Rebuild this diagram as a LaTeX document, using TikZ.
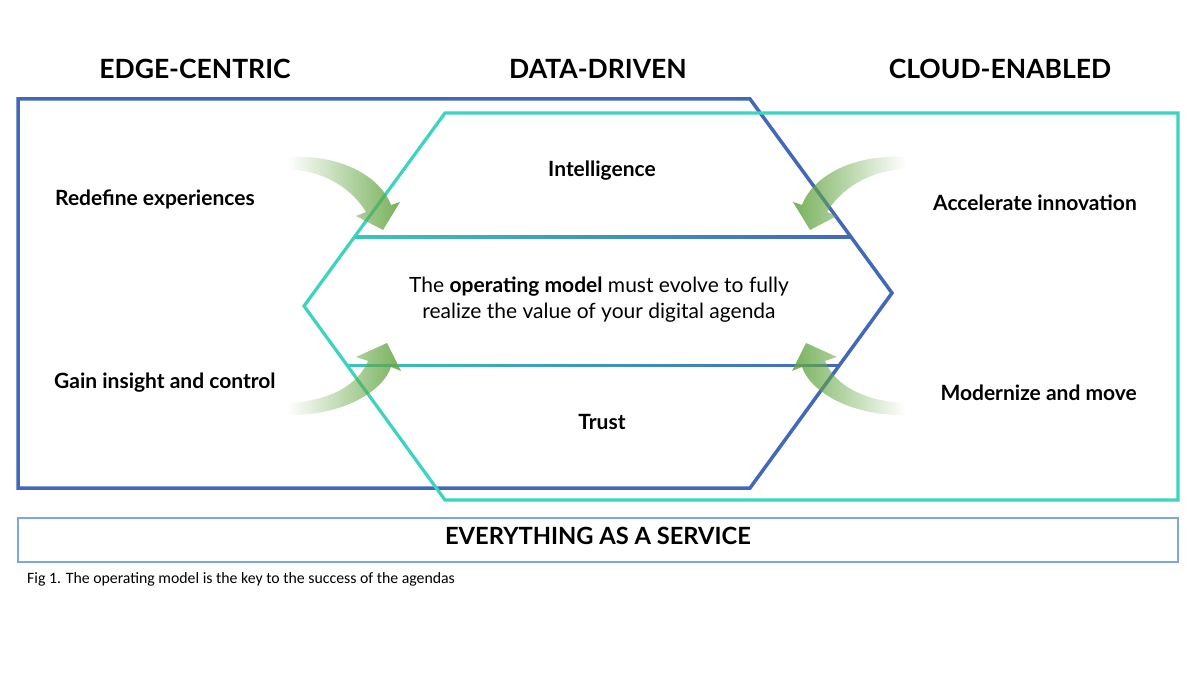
\documentclass[tikz,border=0pt]{standalone}
\usepackage{fontspec}
\setmainfont{Lato}
\newfontfamily\capfont{Carlito}
\usetikzlibrary{fadings}
\definecolor{hpeblue}{RGB}{66,104,186}
\definecolor{hpeteal}{RGB}{58,212,192}
\definecolor{boxblue}{RGB}{125,168,215}
\definecolor{arrgreen}{RGB}{100,166,68}
\tikzfading[name=fadeleft, left color=transparent!100, middle color=transparent!55, right color=transparent!5]
\tikzfading[name=faderight, left color=transparent!5, middle color=transparent!55, right color=transparent!100]
\tikzfading[name=fadeends, left color=transparent!100, middle color=transparent!0, right color=transparent!100]
\tikzset{
  header/.style={inner sep=0pt, anchor=base, font=\fontsize{26.5}{30}\selectfont\bfseries},
  label/.style={inner sep=0pt, font=\fontsize{21}{25}\selectfont\bfseries},
  body/.style={inner sep=0pt, anchor=base, font=\fontsize{21}{25}\selectfont},
  greenarrow/.style={fill=arrgreen, fill opacity=0.92},
}
\begin{document}
\begin{tikzpicture}[x=1pt,y=-1pt]
\useasboundingbox (0,0) rectangle (1200,679);
\fill[white] (0,0) rectangle (1200,679);

% headers
\node[header] (h1) at (195,79) {EDGE-CENTRIC};
\node[header] (h2) at (598,79) {DATA-DRIVEN};
\node[header] (h3) at (1000,79) {CLOUD-ENABLED};

% dotted separators
\draw[hpeblue, line width=1.4pt, dash pattern=on 0.8pt off 0.8pt, path fading=fadeends] (22,293) -- (312,293);
\draw[hpeteal, line width=1.4pt, dash pattern=on 0.8pt off 0.8pt, path fading=fadeends] (893,307) -- (1175,307);

% gradient horizontal lines
\shade[left color=hpeteal!85!hpeblue, right color=hpeblue] (354,236) rectangle (851,238.5);
\shade[left color=hpeteal!85!hpeblue, right color=hpeblue] (347,364) rectangle (840,366.5);

% main shapes
\draw[hpeblue, line width=3.5pt, line join=miter] (18,99) -- (750,99) -- (892,293) -- (750,488) -- (18,488) -- cycle;
\draw[hpeteal, line width=3.2pt, line join=miter] (445,113) -- (1178,113) -- (1178,500) -- (445,500) -- (304,306) -- cycle;

% green arrows
\fill[greenarrow, path fading=fadeleft] (288,157) .. controls (340,154) and (380,176) .. (391,205) -- (400,202) -- (383,230) -- (356,216) -- (366,212) .. controls (352,189) and (325,171) .. (288,169) -- cycle;
\fill[greenarrow, path fading=faderight] (905,157) .. controls (853,154) and (813,176) .. (802,205) -- (793,202) -- (810,230) -- (837,216) -- (827,212) .. controls (841,189) and (868,171) .. (905,169) -- cycle;
\fill[greenarrow, path fading=fadeleft] (288,403) .. controls (330,401) and (358,385) .. (368,361) -- (356,357) -- (387,343) -- (401,371) -- (391,367) .. controls (382,393) and (340,416) .. (288,415) -- cycle;
\fill[greenarrow, path fading=faderight] (905,403) .. controls (863,401) and (835,385) .. (825,361) -- (837,357) -- (806,343) -- (792,371) -- (802,367) .. controls (811,393) and (853,416) .. (905,415) -- cycle;

% side labels
\node[label, anchor=base west] (l1) at (55,206) {Redefine experiences};
\node[label, anchor=base west] (l2) at (54,388) {Gain insight and control};
\node[label, anchor=base east] (r1) at (1137,211) {Accelerate innovation};
\node[label, anchor=base east] (r2) at (1137,400) {Modernize and move};

% centre labels
\node[label, anchor=base] (intel) at (602,177) {Intelligence};
\node[label, anchor=base] (trust) at (602,429) {Trust};
\node[body] (c1) at (599,293) {The \textbf{operating model} must evolve to fully};
\node[body] (c2) at (599,318) {realize the value of your digital agenda};

% bottom bar
\draw[boxblue, line width=1.5pt] (18,518) rectangle (1178,562);
\node[header, font=\fontsize{23.7}{27}\selectfont\bfseries] (xaas) at (598,544) {EVERYTHING AS A SERVICE};

% caption
\node[inner sep=0pt, anchor=base west, font=\capfont\fontsize{15.8}{18}\selectfont] (cap) at (27,583) {Fig 1. The operating model is the key to the success of the agendas};
\end{tikzpicture}
\end{document}
